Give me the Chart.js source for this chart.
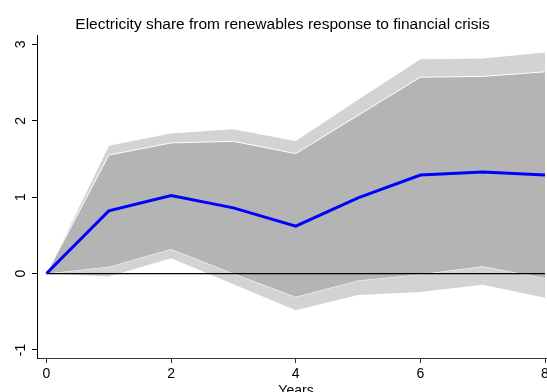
<!DOCTYPE html>
<html>
<head>
<meta charset="utf-8">
<script src="https://cdn.jsdelivr.net/npm/chart.js@4"></script>
<style>
  html, body { margin: 0; padding: 0; background: #fff; }
  #wrap { width: 547px; height: 392px; overflow: hidden; }
</style>
</head>
<body>
<div id="wrap"><canvas id="c" width="547" height="392"></canvas></div>
<script>
// Horizon (years after the crisis)
const years = [0, 1, 2, 3, 4, 5, 6, 7, 8];
// Impulse response of the renewables electricity share
const irf = [0, 0.82, 1.02, 0.86, 0.62, 0.99, 1.29, 1.33, 1.29];
// Inner confidence band
const innerUpper = [0, 1.55, 1.71, 1.73, 1.57, 2.07, 2.57, 2.58, 2.64];
const innerLower = [0, 0.09, 0.32, 0.0, -0.305, -0.09, -0.01, 0.095, -0.057];
// Outer confidence band
const outerUpper = [0, 1.68, 1.84, 1.895, 1.74, 2.28, 2.81, 2.82, 2.90];
const outerLower = [0, -0.04, 0.20, -0.14, -0.48, -0.28, -0.24, -0.145, -0.315];
// Reference line and ticks
const zeroLine = [0, 0, 0, 0, 0, 0, 0, 0, 0];
const xTicks = [0, 2, 4, 6, 8];
const yTicks = [-1, 0, 1, 2, 3];

const titleText = 'Electricity share from renewables response to financial crisis';
const xTitleText = 'Years';

const FONT = '"Liberation Sans", Arial, sans-serif';
const pts = arr => years.map((x, i) => ({ x: x, y: arr[i] }));

const textPlugin = {
  id: 'texts',
  afterDraw(chart) {
    const ctx = chart.ctx;
    const a = chart.chartArea;
    ctx.save();
    ctx.fillStyle = '#000';
    ctx.textAlign = 'center';
    ctx.textBaseline = 'alphabetic';
    ctx.font = '15.5px ' + FONT;
    ctx.fillText(titleText, a.left + 245.5, 28.5);
    ctx.font = '14px ' + FONT;
    ctx.fillText(xTitleText, a.left + 259, a.bottom + 37);
    ctx.restore();
  }
};

const lineDs = (label, data, extra) => Object.assign({
  label: label,
  data: pts(data),
  pointRadius: 0,
  tension: 0,
  borderWidth: 1,
  borderColor: '#ffffff',
  fill: false
}, extra);

new Chart(document.getElementById('c'), {
  type: 'line',
  data: {
    datasets: [
      lineDs('outerLower', outerLower, { order: 6 }),
      lineDs('outerUpper', outerUpper, { order: 5, fill: '-1', backgroundColor: '#d3d3d3' }),
      lineDs('innerLower', innerLower, { order: 4 }),
      lineDs('innerUpper', innerUpper, { order: 3, fill: '-1', backgroundColor: '#b4b4b4' }),
      lineDs('zero', zeroLine, { order: 2, borderColor: '#000000', borderWidth: 1.2 }),
      lineDs('irf', irf, { order: 1, borderColor: '#0000ff', borderWidth: 3 })
    ]
  },
  options: {
    responsive: false,
    animation: false,
    events: [],
    layout: { padding: { top: 35, left: 0, right: 0, bottom: 0 } },
    plugins: {
      legend: { display: false },
      title: { display: false },
      tooltip: { enabled: false }
    },
    scales: {
      x: {
        type: 'linear',
        min: -0.152,
        max: 8.032,
        afterFit: s => { s.height = 34; s.paddingLeft = 0; s.paddingRight = 0; },
        afterBuildTicks: s => { s.ticks = xTicks.map(v => ({ value: v })); },
        grid: { display: true, drawOnChartArea: false, drawTicks: true, tickLength: 5, color: '#333', lineWidth: 1 },
        border: { display: true, color: '#333', width: 1 },
        ticks: { color: '#000', font: { family: FONT, size: 14 }, padding: 3, maxRotation: 0, minRotation: 0 }
      },
      y: {
        type: 'linear',
        min: -1.105,
        max: 3.122,
        afterFit: s => { s.width = 37; s.paddingTop = 0; s.paddingBottom = 0; },
        afterBuildTicks: s => { s.ticks = yTicks.map(v => ({ value: v })); },
        grid: { display: true, drawOnChartArea: false, drawTicks: true, tickLength: 5, color: '#000', lineWidth: 1 },
        border: { display: true, color: '#000', width: 1 },
        ticks: { color: '#000', font: { family: FONT, size: 14 }, padding: 5, minRotation: 90, maxRotation: 90, crossAlign: 'center' }
      }
    }
  },
  plugins: [textPlugin]
});
</script>
</body>
</html>
